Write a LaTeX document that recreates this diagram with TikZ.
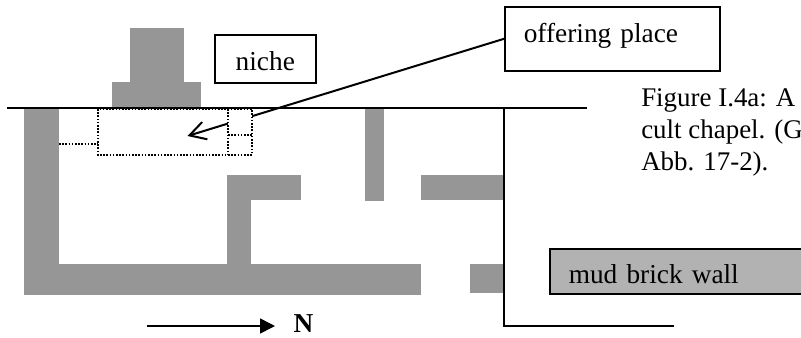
\documentclass[tikz,border=0pt]{standalone}
\usepackage{fontspec}
\setmainfont{Liberation Serif}
\usetikzlibrary{arrows.meta}
\definecolor{wallgray}{HTML}{969696}
\definecolor{keygray}{HTML}{B2B2B2}
\tikzset{
	wall/.style = {fill=wallgray, draw=none},
	outline/.style = {draw=black, line width=1.2pt},
	dots/.style = {draw=black, line width=1.3pt, dash pattern=on 1.2pt off 1.2pt},
	labelbox/.style = {outline, inner sep=0pt, anchor=north west, text depth=0pt, font=\fontsize{20.5}{24}\selectfont},
	caption/.style = {inner sep=0pt, anchor=north west, align=left, font=\fontsize{20.2}{24.2}\selectfont}
}
\begin{document}
\begin{tikzpicture}[x=0.75pt,y=-0.75pt]
\useasboundingbox (0,0) rectangle (801,337);
\clip (0,0) rectangle (801,337);
% walls of the chapel
\foreach \xa/\ya/\xb/\yb in {130/28/184/82, 112/82/201/108, 24/108/59/295, 24/264/421/295,
	227/175/251/264, 227/175/301/200, 365/108/384/201, 421/175/504/200, 470/264/504/293}
	\fill[wall] (\xa,\ya) rectangle (\xb,\yb);
% labels
\node[labelbox, text height=18pt, minimum width=101*0.75pt, minimum height=48*0.75pt] (niche) at (214,34) {niche};
\node[labelbox, text height=6pt, minimum width=215*0.75pt, minimum height=64*0.75pt, text width=177*0.75pt, align=left] (offering) at (504,6) {offering place};
\node[labelbox, text height=18.75pt, fill=keygray, minimum width=270*0.75pt, minimum height=45*0.75pt, text width=232*0.75pt, align=left] (mudbrick) at (549,248) {mud brick wall};
\node[caption] (caption) at (641,88) {Figure I.4a: A\\cult chapel. (G\\Abb. 17-2).};
% site lines
\coordinate (lineL) at (7,108);
\coordinate (lineR) at (587,108);
\coordinate (cornerT) at (504,108);
\coordinate (cornerB) at (504,326);
\coordinate (lineE) at (674,326);
\draw[outline] (lineL) -- (lineR);
\draw[outline] (cornerT) -- (cornerB) -- (lineE);
% arrow to the offering place
\coordinate (tip) at (187.5,136);
\draw[outline, line width=1.5pt, -{Straight Barb[length=16*0.75pt,width=18*0.75pt]}] (offering.west) -- (tip);
% dotted chamber
\fill[white] (228,109) rectangle (252,135);
\draw[dots] (98,109) rectangle (252,155);
\draw[dots] (228,109) -- (228,155);
\draw[dots] (228,135) -- (252,135);
\draw[dots] (59,144) -- (98,144);
% north arrow
\node[inner sep=0pt, anchor=base, font=\fontsize{20.5}{24}\selectfont\bfseries] (north) at (303.5,332) {N};
\coordinate (arrowS) at (147,326);
\coordinate (arrowE) at (275,326);
\draw[outline, -{Triangle[length=15*0.75pt,width=15*0.75pt]}] (arrowS) -- (arrowE);
\end{tikzpicture}
\end{document}
